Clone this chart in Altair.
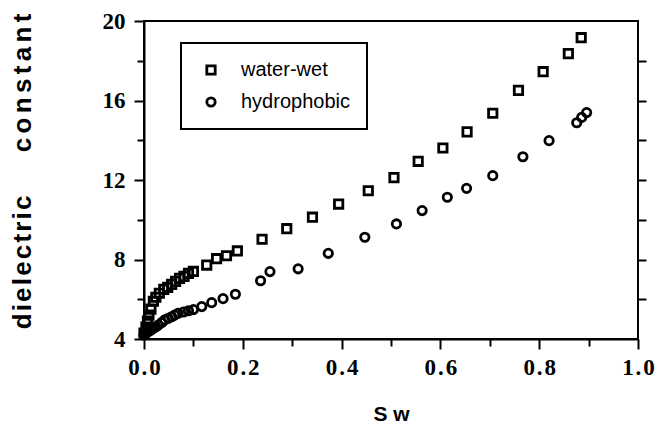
import altair as alt
import pandas as pd

# ---- data ----
series_names = ["water-wet", "hydrophobic"]

ww_x = [0.000, 0.004, 0.007, 0.010, 0.014, 0.019, 0.024, 0.031, 0.040, 0.048,
        0.056, 0.064, 0.072, 0.081, 0.090, 0.100, 0.127, 0.147, 0.167, 0.189,
        0.239, 0.289, 0.341, 0.394, 0.454, 0.506, 0.555, 0.605, 0.654, 0.706,
        0.758, 0.808, 0.859, 0.885]
ww_y = [4.30, 4.60, 4.90, 5.20, 5.50, 5.90, 6.10, 6.30, 6.50, 6.60,
        6.75, 6.90, 7.05, 7.15, 7.30, 7.40, 7.72, 8.04, 8.19, 8.43,
        9.02, 9.55, 10.13, 10.79, 11.46, 12.12, 12.94, 13.61, 14.42, 15.36,
        16.51, 17.45, 18.36, 19.16]

hp_x = [0.000, 0.004, 0.009, 0.014, 0.019, 0.024, 0.029, 0.036, 0.042, 0.049,
        0.056, 0.062, 0.069, 0.080, 0.090, 0.100, 0.117, 0.137, 0.160, 0.185,
        0.236, 0.255, 0.312, 0.373, 0.447, 0.511, 0.563, 0.614, 0.653, 0.706,
        0.767, 0.820, 0.876, 0.886, 0.896]
hp_y = [4.20, 4.30, 4.37, 4.45, 4.54, 4.62, 4.70, 4.83, 4.96, 5.04,
        5.12, 5.20, 5.29, 5.36, 5.42, 5.48, 5.63, 5.83, 6.03, 6.25,
        6.93, 7.39, 7.53, 8.31, 9.12, 9.79, 10.46, 11.13, 11.58, 12.22,
        13.17, 13.98, 14.88, 15.15, 15.39]

x_major = [0.0, 0.2, 0.4, 0.6, 0.8, 1.0]
x_minor = [0.1, 0.3, 0.5, 0.7, 0.9]
y_major = [4, 8, 12, 16, 20]
y_minor = [6, 10, 14, 18]
y_right = [6, 8, 10, 12, 14, 16, 18]

x_title = "S w"
y_words = ["dielectric", "constant"]

df = pd.DataFrame({
    "Sw": ww_x + hp_x,
    "eps": ww_y + hp_y,
    "sample": [series_names[0]] * len(ww_x) + [series_names[1]] * len(hp_x),
})

SP = "\u2006"
HS = "\u200a"

y_title = (HS.join(list(y_words[0])) + "\u2003\u2002\u2006" + SP.join(list(y_words[1])))

xscale = alt.Scale(domain=[0, 1], nice=False, zero=False)
yscale = alt.Scale(domain=[4, 20], nice=False, zero=False)

serif = "Liberation Serif"
sans = "Liberation Sans"

points = alt.Chart(df).mark_point(
    filled=False, color="black", strokeWidth=2.8, size=70, opacity=1
).encode(
    x=alt.X("Sw:Q", scale=xscale, axis=alt.Axis(
        orient="bottom", values=x_major, format=".1f",
        labelExpr="join(split(datum.label, ''), '" + HS + "')",
        tickSize=10, tickWidth=2, tickColor="black",
        domainColor="black", domainWidth=2,
        labelFont=serif, labelFontWeight="bold", labelFontSize=23, labelColor="black",
        labelPadding=7, labelFlush=False, labelOverlap=False, grid=False,
        title=x_title, titleFont=sans, titleFontWeight="bold", titleFontSize=21,
        titleColor="black", titleX=247, titleY=75, titleBaseline="middle",
        titleAlign="center",
    )),
    y=alt.Y("eps:Q", scale=yscale, axis=alt.Axis(
        orient="left", values=y_major, format="d",
        tickSize=10, tickWidth=2, tickColor="black",
        domainColor="black", domainWidth=2,
        labelFont=serif, labelFontWeight="bold", labelFontSize=23, labelColor="black",
        labelPadding=9, labelFlush=False, labelOverlap=False, grid=False,
        title=y_title, titleFont=sans, titleFontWeight="bold", titleFontSize=26,
        titleColor="black", titleX=-122, titleY=150, titleBaseline="middle",
        titleAlign="center", titleAngle=270,
    )),
    shape=alt.Shape("sample:N", scale=alt.Scale(domain=series_names, range=["square", "circle"]),
                    legend=alt.Legend(
                        orient="none", legendX=37, legendY=22, title=None,
                        labelFont=sans, labelFontSize=20, labelColor="black",
                        symbolStrokeColor="black", symbolFillColor="white",
                        symbolStrokeWidth=2.8, symbolSize=70,
                        labelOffset=20, rowPadding=12, padding=17, symbolOffset=3,
                        strokeColor="black",
                    )),
)

minor_xr = alt.Chart(df).mark_point(opacity=0).encode(
    x=alt.X("Sw:Q", scale=xscale, axis=alt.Axis(
        orient="bottom", values=x_minor, labels=False, domain=False,
        tickSize=7, tickWidth=2, tickColor="black", grid=False, title=None)),
    y=alt.Y("eps:Q", scale=yscale, axis=alt.Axis(
        orient="right", values=y_right, labels=False, domain=False,
        tickSize=8, tickWidth=2, tickColor="black", grid=False, title=None)),
)

minor_y = alt.Chart(df).mark_point(opacity=0).encode(
    x=alt.X("Sw:Q", scale=xscale, axis=None),
    y=alt.Y("eps:Q", scale=yscale, axis=alt.Axis(
        orient="left", values=y_minor, labels=False, domain=False,
        tickSize=7, tickWidth=2, tickColor="black", grid=False, title=None)),
)

chart = alt.layer(points, minor_xr, minor_y).resolve_axis(
    x="independent", y="independent"
).properties(
    width=494, height=318,
    autosize=alt.AutoSizeParams(type="none"),
    padding={"left": 136, "top": 13, "right": 17, "bottom": 84},
).configure_view(
    stroke="black", strokeWidth=2
).configure_legend(
    strokeWidth=2
)

chart.save("out.html", embed_options={"renderer": "svg", "actions": False})
